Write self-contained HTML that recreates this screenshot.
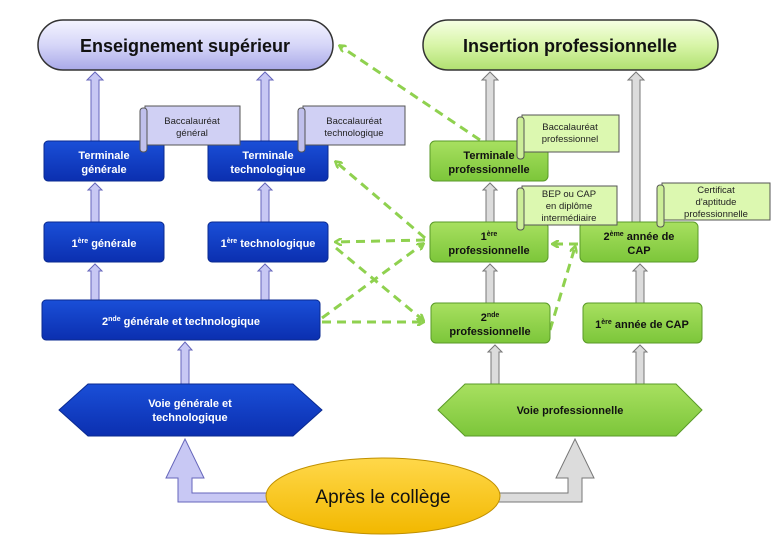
<!DOCTYPE html>
<html><head><meta charset="utf-8"><style>
body{margin:0;background:#fff}
svg{display:block}
text{font-family:"Liberation Sans",Arial,sans-serif;font-weight:bold}
text.n{font-weight:normal}
</style></head><body>
<svg width="780" height="540" viewBox="0 0 780 540" xmlns="http://www.w3.org/2000/svg">
<defs>
<linearGradient id="lav" x1="0" y1="0" x2="0" y2="1"><stop offset="0" stop-color="#f4f4ff"/><stop offset="0.5" stop-color="#d6d6f8"/><stop offset="1" stop-color="#a9a9e8"/></linearGradient>
<linearGradient id="lg" x1="0" y1="0" x2="0" y2="1"><stop offset="0" stop-color="#f6ffe4"/><stop offset="0.5" stop-color="#d8f5a8"/><stop offset="1" stop-color="#b0e070"/></linearGradient>
<linearGradient id="bl" x1="0" y1="0" x2="0" y2="1"><stop offset="0" stop-color="#1a4fd8"/><stop offset="1" stop-color="#0b2fb0"/></linearGradient>
<linearGradient id="gr" x1="0" y1="0" x2="0" y2="1"><stop offset="0" stop-color="#a8e060"/><stop offset="1" stop-color="#7cc63a"/></linearGradient>
<linearGradient id="yl" x1="0" y1="0" x2="0" y2="1"><stop offset="0" stop-color="#ffd84a"/><stop offset="1" stop-color="#f2b800"/></linearGradient>
<marker id="ga" markerWidth="8" markerHeight="8" refX="6" refY="4" orient="auto" markerUnits="userSpaceOnUse"><path d="M0,0 L7,4 L0,8" fill="none" stroke="#8fd14f" stroke-width="2.5"/></marker>
</defs>

<rect x="38" y="20" width="295" height="50" rx="25" fill="url(#lav)" stroke="#333" stroke-width="1.5"/>
<text x="185" y="52" font-size="18" text-anchor="middle" fill="#111">Enseignement supérieur</text>
<rect x="423" y="20" width="295" height="50" rx="25" fill="url(#lg)" stroke="#333" stroke-width="1.5"/>
<text x="570" y="52" font-size="18" text-anchor="middle" fill="#111">Insertion professionnelle</text>

<g fill="#c8c8f4" stroke="#6666bb" stroke-width="1">
<path d="M91,141 V80 H87 L95,72 L103,80 H99 V141 Z"/>
<path d="M261,141 V80 H257 L265,72 L273,80 H269 V141 Z"/>
<path d="M91,222 V190 H88 L95,183 L102,190 H99 V222 Z"/>
<path d="M261,222 V190 H258 L265,183 L272,190 H269 V222 Z"/>
<path d="M91,300 V271 H88 L95,264 L102,271 H99 V300 Z"/>
<path d="M261,300 V271 H258 L265,264 L272,271 H269 V300 Z"/>
<path d="M181,384 V350 H178 L185,342 L192,350 H189 V384 Z"/>
<path d="M275,493 H192 V478 H204 L185,439 L166,478 H178 V502 H275 Z"/>
</g>
<g fill="#dcdcdc" stroke="#777" stroke-width="1">
<path d="M486,141 V80 H482 L490,72 L498,80 H494 V141 Z"/>
<path d="M632,222 V80 H628 L636,72 L644,80 H640 V222 Z"/>
<path d="M486,222 V190 H483 L490,183 L497,190 H494 V222 Z"/>
<path d="M486,303 V271 H483 L490,264 L497,271 H494 V303 Z"/>
<path d="M636,303 V271 H633 L640,264 L647,271 H644 V303 Z"/>
<path d="M491,384 V352 H488 L495,345 L502,352 H499 V384 Z"/>
<path d="M636,384 V352 H633 L640,345 L647,352 H644 V384 Z"/>
<path d="M495,493 H568 V478 H556 L575,439 L594,478 H582 V502 H495 Z"/>
</g>

<g stroke="#8fd14f" stroke-width="3" stroke-dasharray="9,6" fill="none" marker-end="url(#ga)">
<path d="M480,140 L340,46"/>
<path d="M425,238 L336,162"/>
<path d="M425,240 L336,242"/>
<path d="M322,318 L423,244"/>
<path d="M336,248 L423,320"/>
<path d="M322,322 L423,322"/>
<path d="M550,330 L575,247"/>
<path d="M578,244 L553,244"/>
</g>

<g fill="url(#bl)" stroke="#0a2a90">
<rect x="44" y="141" width="120" height="40" rx="4"/>
<rect x="208" y="141" width="120" height="40" rx="4"/>
<rect x="44" y="222" width="120" height="40" rx="4"/>
<rect x="208" y="222" width="120" height="40" rx="4"/>
<rect x="42" y="300" width="278" height="40" rx="4"/>
<path d="M59,410 L88,384 H293 L322,410 L293,436 H88 Z"/>
</g>
<g fill="#fff" font-size="11" text-anchor="middle">
<text x="104" y="159">Terminale</text><text x="104" y="173">générale</text>
<text x="268" y="159">Terminale</text><text x="268" y="173">technologique</text>
<text x="104" y="247">1<tspan font-size="7" dy="-4">ère</tspan><tspan dy="4"> générale</tspan></text>
<text x="268" y="247">1<tspan font-size="7" dy="-4">ère</tspan><tspan dy="4"> technologique</tspan></text>
<text x="181" y="325">2<tspan font-size="7" dy="-4">nde</tspan><tspan dy="4"> générale et technologique</tspan></text>
<text x="190" y="407">Voie générale et</text><text x="190" y="421">technologique</text>
</g>

<g fill="url(#gr)" stroke="#5a9a28">
<rect x="430" y="141" width="118" height="40" rx="5"/>
<rect x="430" y="222" width="118" height="40" rx="5"/>
<rect x="580" y="222" width="118" height="40" rx="5"/>
<rect x="431" y="303" width="119" height="40" rx="5"/>
<rect x="583" y="303" width="119" height="40" rx="5"/>
<path d="M438,410 L465,384 H676 L702,410 L676,436 H465 Z"/>
</g>
<g fill="#111" font-size="11" text-anchor="middle">
<text x="489" y="159">Terminale</text><text x="489" y="173">professionnelle</text>
<text x="489" y="240">1<tspan font-size="7" dy="-4">ère</tspan></text><text x="489" y="254">professionnelle</text>
<text x="639" y="240">2<tspan font-size="7" dy="-4">ème</tspan><tspan dy="4"> année de</tspan></text><text x="639" y="254">CAP</text>
<text x="490" y="321">2<tspan font-size="7" dy="-4">nde</tspan></text><text x="490" y="335">professionnelle</text>
<text x="642" y="328">1<tspan font-size="7" dy="-4">ère</tspan><tspan dy="4"> année de CAP</tspan></text>
<text x="570" y="414">Voie professionnelle</text>
</g>

<g stroke="#555" stroke-width="1">
<rect x="145" y="106" width="95" height="39" fill="#d0d0f4"/><rect x="140" y="108" width="7" height="44" rx="3" fill="#c0c0ec"/>
<rect x="303" y="106" width="102" height="39" fill="#d0d0f4"/><rect x="298" y="108" width="7" height="44" rx="3" fill="#c0c0ec"/>
<rect x="522" y="115" width="97" height="37" fill="#dcf8b0"/><rect x="517" y="117" width="7" height="42" rx="3" fill="#ccee98"/>
<rect x="522" y="186" width="95" height="39" fill="#dcf8b0"/><rect x="517" y="188" width="7" height="42" rx="3" fill="#ccee98"/>
<rect x="662" y="183" width="108" height="37" fill="#dcf8b0"/><rect x="657" y="185" width="7" height="42" rx="3" fill="#ccee98"/>
</g>
<g fill="#222" font-size="9.5" text-anchor="middle">
<text class="n" x="192" y="124">Baccalauréat</text><text class="n" x="192" y="136">général</text>
<text class="n" x="354" y="124">Baccalauréat</text><text class="n" x="354" y="136">technologique</text>
<text class="n" x="570" y="130">Baccalauréat</text><text class="n" x="570" y="142">professionnel</text>
<text class="n" x="569" y="197">BEP ou CAP</text><text class="n" x="569" y="209">en diplôme</text><text class="n" x="569" y="221">intermédiaire</text>
<text class="n" x="716" y="193">Certificat</text><text class="n" x="716" y="205">d'aptitude</text><text class="n" x="716" y="217">professionnelle</text>
</g>

<ellipse cx="383" cy="496" rx="117" ry="38" fill="url(#yl)" stroke="#c09000"/>
<text class="n" x="383" y="503" font-size="19" text-anchor="middle" fill="#111">Après le collège</text>
</svg>
</body></html>
